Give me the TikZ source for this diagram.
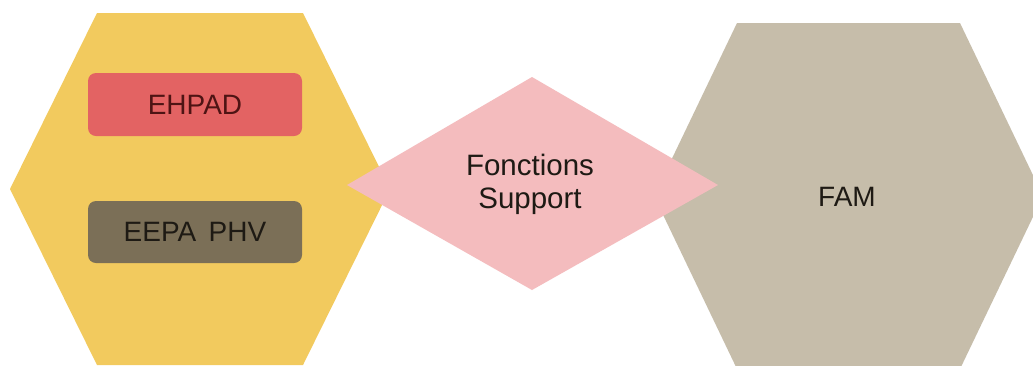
\documentclass[tikz,border=0pt]{standalone}
\usepackage{fontspec}
\setmainfont{Liberation Sans}
\definecolor{hexyellow}{HTML}{F2CA5E}
\definecolor{hexgrey}{HTML}{C6BDAA}
\definecolor{diapink}{HTML}{F4BCBE}
\definecolor{boxred}{HTML}{E36363}
\definecolor{boxbrown}{HTML}{7B6F57}
\definecolor{txtred}{HTML}{4E1414}
\definecolor{txtdark}{HTML}{1E1A14}
\tikzset{
  labelbox/.style={rounded corners=8pt, minimum width=214pt, minimum height=63pt, inner sep=0pt, font=\fontsize{28}{33}\selectfont},
  plaintext/.style={inner sep=0pt, align=center, text=txtdark, font=\fontsize{28}{33}\selectfont}
}
\begin{document}
\begin{tikzpicture}[x=1pt,y=-1pt]
\useasboundingbox (0,0) rectangle (1033,365);
\fill[white] (0,0) rectangle (1033,365);
% left hexagon
\fill[hexyellow] (10,189) -- (97,13) -- (303,13) -- (390,189) -- (303,365) -- (97,365) -- cycle;
% right hexagon
\fill[hexgrey] (654,196) -- (737,23) -- (960,23) -- (1043,196) -- (960,369) -- (737,369) -- cycle;
% diamond
\fill[diapink] (347,185) -- (532,77) -- (718,185) -- (532,290) -- cycle;
\node[labelbox, fill=boxred, text=txtred] (ehpad) at (195,104.5) {EHPAD};
\node[labelbox, fill=boxbrown, text=txtdark, minimum height=62pt] (eepa) at (195,232) {EEPA\, PHV};
\node[plaintext, font=\fontsize{29.5}{33}\selectfont] (fs) at (530,184) {Fonctions\\Support};
\node[plaintext] (fam) at (847,197) {FAM};
\end{tikzpicture}
\end{document}
